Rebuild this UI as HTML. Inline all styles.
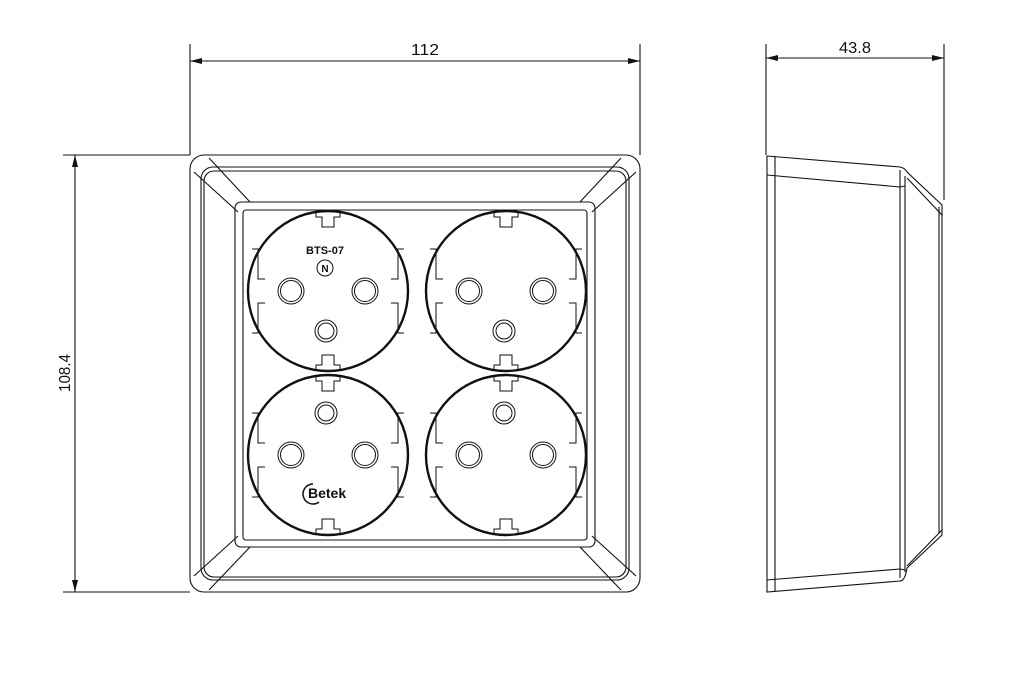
<!DOCTYPE html>
<html><head><style>body{margin:0;background:#fff}svg{display:block}</style></head><body>
<svg width="1024" height="677" viewBox="0 0 1024 677" xmlns="http://www.w3.org/2000/svg" font-family="Liberation Sans, sans-serif">
<defs>
<g id="sock" fill="none" stroke="#111">
<circle r="80" stroke-width="2.4"/>
<path d="M-76,-42 h6 v30 h7 M-76,42 h6 v-30 h7 M76,-42 h-6 v30 h-7 M76,42 h-6 v-30 h-7" stroke-width="1"/>
<path d="M-12,-80 v6 h6 v10 h12 v-10 h6 v-6" stroke-width="1"/>
<path d="M-12,80 v-6 h6 v-10 h12 v10 h6 v6" stroke-width="1"/>
<circle cx="-37" cy="0" r="13" stroke-width="1"/><circle cx="-37" cy="0" r="10.5" stroke-width="1"/>
<circle cx="37" cy="0" r="13" stroke-width="1"/><circle cx="37" cy="0" r="10.5" stroke-width="1"/>
</g>
</defs>
<g fill="none" stroke="#111" stroke-width="1.1">
<line x1="190" y1="44" x2="190" y2="155"/><line x1="640" y1="44" x2="640" y2="155"/>
<line x1="190" y1="61" x2="640" y2="61"/>
<line x1="766" y1="44" x2="766" y2="155"/><line x1="944" y1="44" x2="944" y2="200"/>
<line x1="766" y1="58" x2="944" y2="58"/>
<line x1="63" y1="155" x2="190" y2="155"/><line x1="63" y1="592" x2="190" y2="592"/>
<line x1="75" y1="155" x2="75" y2="592"/>
<rect x="190" y="155" width="450" height="437" rx="14"/>
<rect x="201" y="167" width="428" height="413" rx="12"/>
<rect x="204" y="171" width="422" height="406" rx="10"/>
<rect x="235" y="202" width="360" height="345" rx="6"/>
<rect x="243" y="210" width="344" height="330" rx="3"/>
<path d="M194,172 L238,212 M209,158 L250,202 M636,172 L592,212 M621,158 L580,202 M194,576 L238,536 M209,590 L250,547 M636,576 L592,536 M621,590 L580,547"/>
<path d="M767,156 L900,167 Q905,168 907,172 L942,205 L942,535 L907,568 Q905,581 900,581 L767,592 Z"/>
<line x1="775" y1="156" x2="775" y2="592"/>
<path d="M767,175 L900,187 L905,186 M767,580 L900,569 L905,570"/>
<line x1="900" y1="170" x2="900" y2="578"/><line x1="905" y1="176" x2="905" y2="572"/>
<path d="M907,178 L942,215 M907,566 L942,530"/>
<line x1="939" y1="207" x2="939" y2="533"/>
</g>
<g fill="#111">
<path d="M190,61 l12,-3 v6z M640,61 l-12,-3 v6z M766,58 l12,-3 v6z M944,58 l-12,-3 v6z M75,155 l-3,12 h6z M75,592 l-3,-12 h6z"/>
</g>
<use href="#sock" x="328" y="291"/><use href="#sock" x="506" y="291"/>
<use href="#sock" x="328" y="455"/><use href="#sock" x="506" y="455"/>
<g fill="none" stroke="#111">
<circle cx="326" cy="331" r="11"/><circle cx="326" cy="331" r="8"/>
<circle cx="504" cy="331" r="11"/><circle cx="504" cy="331" r="8"/>
<circle cx="326" cy="413" r="11"/><circle cx="326" cy="413" r="8"/>
<circle cx="504" cy="413" r="11"/><circle cx="504" cy="413" r="8"/>
<circle cx="325" cy="268" r="8"/>
<path d="M313,484 a10,10 0 1,0 6,18" stroke-width="1.5"/>
</g>
<g fill="#111" font-size="16">
<text x="425" y="55" text-anchor="middle" textLength="28" lengthAdjust="spacingAndGlyphs">112</text>
<text x="855" y="53" text-anchor="middle" textLength="32" lengthAdjust="spacingAndGlyphs">43.8</text>
<text transform="translate(70,373) rotate(-90)" text-anchor="middle" textLength="38" lengthAdjust="spacingAndGlyphs">108.4</text>
<text x="325" y="254" font-size="11" font-weight="bold" text-anchor="middle">BTS-07</text>
<text x="325" y="272" font-size="10" font-weight="bold" text-anchor="middle">N</text>
<text x="308" y="498" font-size="14" font-weight="bold">Betek</text>
</g>
</svg>
</body></html>
